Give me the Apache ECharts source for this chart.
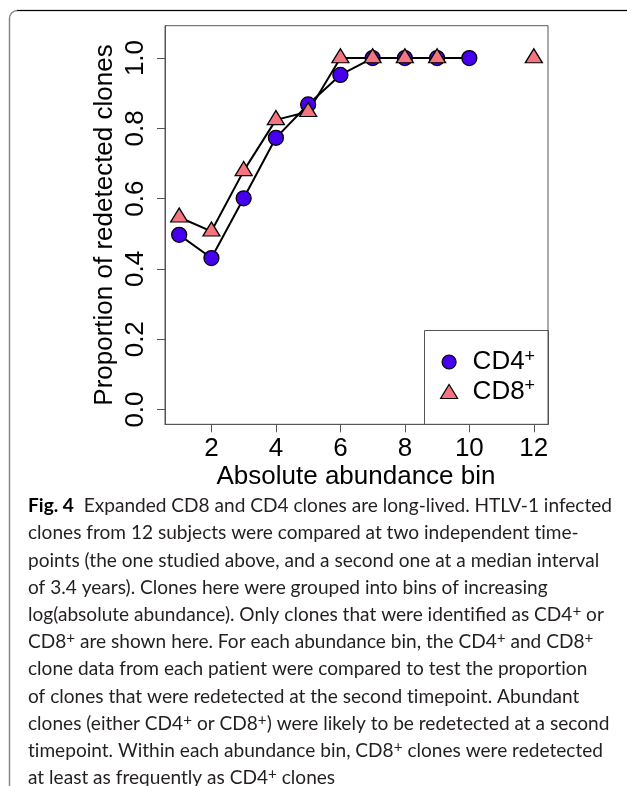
<!DOCTYPE html>
<html><head><meta charset="utf-8">
<script src="https://cdn.jsdelivr.net/npm/echarts@6/dist/echarts.min.js"></script>
<style>html,body{margin:0;padding:0;background:#fff}#c{width:627px;height:786px}</style>
</head><body><div id="c"></div>
<script>
const bins = [1,2,3,4,5,6,7,8,9,10,11,12];
const cd4 = [0.497,0.431,0.601,0.773,0.868,0.952,1,1,1,1,null,null];
const cd8 = [0.547,0.507,0.679,0.824,0.847,1,1,1,1,null,null,1];
const xTicks = [2,4,6,8,10,12];
const yTicks = [0,0.2,0.4,0.6,0.8,1.0];
const xTitle = 'Absolute abundance bin';
const yTitle = 'Proportion of redetected clones';
const captionLines = [
  '{b|Fig. 4}  Expanded CD8 and CD4 clones are long-lived. HTLV-1 infected',
  'clones from 12 subjects were compared at two independent time-',
  'points (the one studied above, and a second one at a median interval',
  'of 3.4 years). Clones here were grouped into bins of increasing',
  'log(absolute abundance). Only clones that were identified as CD4{s|+} or',
  'CD8{s|+} are shown here. For each abundance bin, the CD4{s|+} and CD8{s|+}',
  'clone data from each patient were compared to test the proportion',
  'of clones that were redetected at the second timepoint. Abundant',
  'clones (either CD4{s|+} or CD8{s|+}) were likely to be redetected at a second',
  'timepoint. Within each abundance bin, CD8{s|+} clones were redetected',
  'at least as frequently as CD4{s|+} clones'
];

const toPairs = arr => bins.map((b,i)=>[b, arr[i]===null ? '-' : arr[i]]);
const cd4Data = toPairs(cd4).filter((p,i)=>!(cd4[i]===null && i>=9));
const cd8Data = toPairs(cd8);

const capFont = 'Lato';
const cv = document.createElement('canvas').getContext('2d');
cv.font = '100px ' + capFont;
const w1 = cv.measureText('Fig. 4  Expanded CD8 and CD4 clones are long-lived. HTLV-1 infected').width;
const capSize = Math.min(22, 100 * 584 / w1);
const AF = '"Liberation Sans", Arial, sans-serif';

const chart = echarts.init(document.getElementById('c'), null, {renderer:'canvas'});
const gridBorder = '#555';
const graphics = [
  {type:'rect', shape:{x:9.5,y:10.5,width:800,height:900,r:8}, style:{fill:'none',stroke:'#888',lineWidth:1.5}, z:1},
  {type:'line', shape:{x1:17,y1:10.5,x2:627,y2:10.5}, style:{stroke:'#000',lineWidth:1.2}, z:2},
  {type:'rect', shape:{x:424.5,y:330.5,width:124,height:94}, style:{fill:'#fff',stroke:gridBorder,lineWidth:1}, z:3},
  {type:'text', x:356, y:477, style:{text:xTitle, font:'26px ' + AF, fill:'#000', align:'center', verticalAlign:'middle'}, z:5},
  {type:'text', x:104.5, y:225, rotation:Math.PI/2, style:{text:yTitle, font:'26px ' + AF, fill:'#000', align:'center', verticalAlign:'middle'}, z:5}
];
captionLines.forEach((t,i)=>{
  graphics.push({type:'text', x:28, y:506 + 27.2*i, z:5, style:{
    text:t.replace(/ti/g,'t\u200Ci'), fontFamily:capFont, fontSize:capSize, fill:'#231f20', align:'left', verticalAlign:'middle',
    rich:{
      b:{fontFamily:capFont, fontSize:capSize, fontWeight:'bold', fill:'#000'},
      s:{fontFamily:capFont, fontSize:capSize*0.8, fill:'#231f20', verticalAlign:'top', lineHeight:capSize*1.15}
    }
  }});
});

chart.setOption({
  animation:false,
  backgroundColor:'#fff',
  grid:{left:165, top:25.7, right:79, bottom:361.7, show:true, borderColor:gridBorder, borderWidth:1, backgroundColor:'transparent', z:4},
  xAxis:{type:'value', min:0.56, max:12.44, splitLine:{show:false}, axisLine:{show:true, onZero:false, lineStyle:{color:gridBorder, width:1}},
    axisTick:{show:true, inside:false, length:8, lineStyle:{color:'#555', width:1}, customValues:xTicks},
    axisLabel:{customValues:xTicks, margin:12, fontSize:26, color:'#000', fontFamily:AF}},
  yAxis:{type:'value', min:-0.042, max:1.092, splitLine:{show:false}, axisLine:{show:true, onZero:false, lineStyle:{color:gridBorder, width:1}},
    axisTick:{show:true, inside:false, length:8, lineStyle:{color:'#555', width:1}, customValues:yTicks},
    axisLabel:{customValues:yTicks, rotate:90, margin:16, fontSize:26, color:'#000', fontFamily:AF, formatter:v=>v.toFixed(1)}},
  legend:{orient:'vertical', left:440, top:348, padding:0, itemGap:2.5, itemWidth:17, itemHeight:14, z:6,
    textStyle:{fontSize:26, fontFamily:AF, color:'#000',
      rich:{n:{fontSize:26, fontFamily:AF, color:'#000', lineHeight:28, padding:[0,0,0,10]}, s:{fontSize:18, fontFamily:AF, color:'#000', verticalAlign:'top', lineHeight:18}}},
    formatter:name=>'{n|'+name.replace('+','')+'}{s|+}',
    data:[
      {name:'CD4+', icon:'circle', itemStyle:{color:'#4700EE', borderColor:'#000', borderWidth:1.2}},
      {name:'CD8+', icon:'triangle', itemStyle:{color:'#F57480', borderColor:'#000', borderWidth:1.2}}
    ]},
  graphic:graphics,
  series:[
    {name:'CD4+', type:'line', data:cd4Data, symbol:'circle', symbolSize:15, z:5, connectNulls:false,
      lineStyle:{color:'#000', width:2}, itemStyle:{color:'#4700EE', borderColor:'#000', borderWidth:1.3}},
    {name:'CD8+', type:'line', data:cd8Data, symbol:'triangle', symbolSize:[17,14], symbolOffset:[0,-2.3], z:5, connectNulls:false,
      lineStyle:{color:'#000', width:2}, itemStyle:{color:'#F57480', borderColor:'#000', borderWidth:1.3}}
  ]
});
</script></body></html>
